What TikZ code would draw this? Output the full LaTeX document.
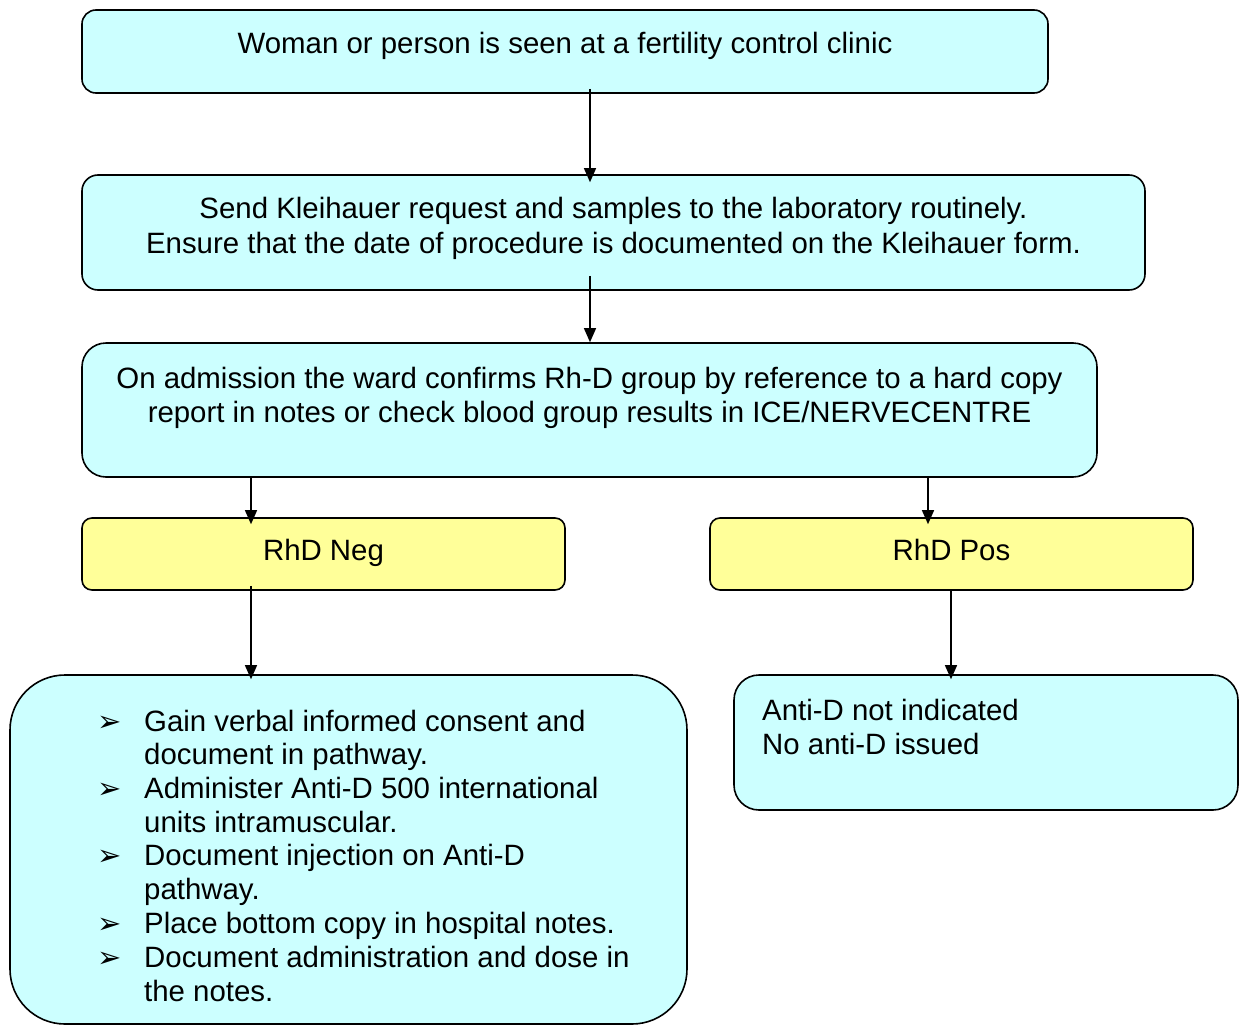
\documentclass[tikz,border=0pt]{standalone}
\usepackage{fontspec}
\setmainfont{Liberation Sans}
\newfontfamily\symfont{DejaVu Sans}
\usetikzlibrary{arrows.meta}

\definecolor{boxcyan}{HTML}{CCFFFF}
\definecolor{boxyellow}{HTML}{FFFF99}

\begin{document}
\begin{tikzpicture}[x=1pt,y=-1pt,
  flowbox/.style={draw=black, line width=1.6pt, fill=boxcyan, rectangle,
                  rounded corners=#1, inner sep=0pt},
  flowbox/.default=14pt,
  resultbox/.style={flowbox=#1, fill=boxyellow},
  resultbox/.default=10pt,
  txt/.style={anchor=base, inner sep=0pt, font=\fontsize{29.4}{34}\selectfont},
  ltxt/.style={txt, anchor=base west},
  bul/.style={anchor=base west, inner sep=0pt, font=\symfont\fontsize{29}{30}\selectfont},
  arr/.style={-{Triangle[length=14pt,width=12pt]}, line width=1.3pt}
]
\useasboundingbox (0,0) rectangle (1239,1025);

% boxes
\node[flowbox=14pt, minimum width=966pt, minimum height=83pt] (start) at (565,51.5) {};
\node[flowbox=16pt, minimum width=1063pt, minimum height=115pt] (send) at (613.5,232.5) {};
\node[flowbox=24pt, minimum width=1015pt, minimum height=134pt] (admit) at (589.5,410) {};
\node[resultbox=10pt, minimum width=483pt, minimum height=72pt] (neg) at (323.5,554) {};
\node[resultbox=10pt, minimum width=483pt, minimum height=72pt] (pos) at (951.5,554) {};
\node[flowbox=55pt, minimum width=677pt, minimum height=349pt] (give) at (348.5,849.5) {};
\node[flowbox=25pt, minimum width=504pt, minimum height=135pt] (none) at (986,742.5) {};

% texts
\node[txt] (startT) at (565,53) {Woman or person is seen at a fertility control clinic};
\node[txt] (sendT1) at (613.5,218.5) {Send Kleihauer request and samples to the laboratory routinely.};
\node[txt] (sendT2) at (613.5,253.5) {Ensure that the date of procedure is documented on the Kleihauer form.};
\node[txt] (admitT1) at (589.5,388.5) {On admission the ward confirms Rh-D group by reference to a hard copy};
\node[txt] (admitT2) at (589.5,422.5) {report in notes or check blood group results in ICE/NERVECENTRE};
\node[txt] (negT) at (323.5,560.5) {RhD Neg};
\node[txt] (posT) at (951.5,560.5) {RhD Pos};
\node[ltxt] (noneT1) at (762,720.5) {Anti-D not indicated};
\node[ltxt] (noneT2) at (762,754.5) {No anti-D issued};

% action list
\node[bul] (b1) at (97,731) {➢};
\node[ltxt] (g1) at (144,731.5) {Gain verbal informed consent and};
\node[ltxt] (g2) at (144,764.5) {document in pathway.};
\node[bul] (b2) at (97,798) {➢};
\node[ltxt] (g3) at (144,798.5) {Administer Anti-D 500 international};
\node[ltxt] (g4) at (144,832.5) {units intramuscular.};
\node[bul] (b3) at (97,865) {➢};
\node[ltxt] (g5) at (144,865.5) {Document injection on Anti-D};
\node[ltxt] (g6) at (144,899.5) {pathway.};
\node[bul] (b4) at (97,933) {➢};
\node[ltxt] (g7) at (144,933.5) {Place bottom copy in hospital notes.};
\node[bul] (b5) at (97,967) {➢};
\node[ltxt] (g8) at (144,967.5) {Document administration and dose in};
\node[ltxt] (g9) at (144,1001.5) {the notes.};

% connector columns
\coordinate (c1) at (590,0);
\coordinate (c2) at (251,0);
\coordinate (c3) at (928,0);
\coordinate (c4) at (951,0);

\draw[arr, shorten <=-5pt, shorten >=-8pt] (start.south -| c1) -- (send.north -| c1);
\draw[arr, shorten <=-15pt] (send.south -| c1) -- (admit.north -| c1);
\draw[arr, shorten >=-7pt] (admit.south -| c2) -- (neg.north -| c2);
\draw[arr, shorten >=-7pt] (admit.south -| c3) -- (pos.north -| c3);
\draw[arr, shorten <=-5pt, shorten >=-5pt] (neg.south -| c2) -- (give.north -| c2);
\draw[arr, shorten >=-5pt] (pos.south -| c4) -- (none.north -| c4);
\end{tikzpicture}
\end{document}
